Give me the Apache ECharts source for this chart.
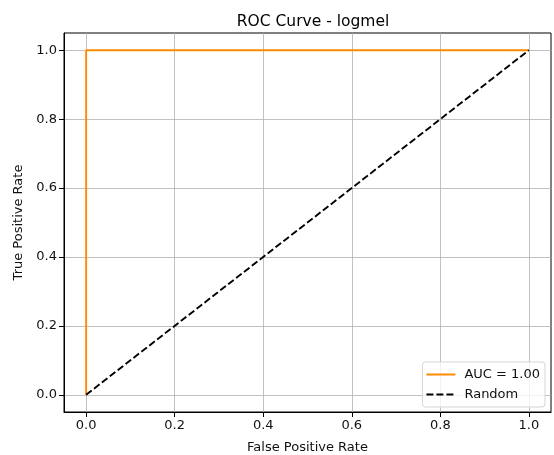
<!DOCTYPE html>
<html>
<head>
<meta charset="utf-8">
<script src="https://cdn.jsdelivr.net/npm/echarts@6/dist/echarts.min.js"></script>
<style>
  html, body { margin: 0; padding: 0; background: #fff; }
  #chart { width: 554px; height: 455px; }
</style>
</head>
<body>
<div id="chart"></div>
<script>
// ROC points
const fpr = [0, 0, 1];
const tpr = [0, 1, 1];
const randomX = [0, 1];
const randomY = [0, 1];
const ticks = [0, 0.2, 0.4, 0.6, 0.8, 1.0];

const font = "DejaVu Sans";

function pairs(xs, ys) {
  return xs.map((x, i) => [x, ys[i]]);
}

function makeAxis(name, gap) {
  return {
    type: "value",
    min: -0.05,
    max: 1.05,
    name: name,
    nameLocation: "middle",
    nameGap: gap,
    nameTextStyle: { fontFamily: font, fontSize: 13, color: "#111" },
    axisLine: { show: true, onZero: false, lineStyle: { color: "#000", width: 1 } },
    axisTick: {
      show: true,
      inside: false,
      customValues: ticks,
      length: 5,
      lineStyle: { color: "#000", width: 1 }
    },
    axisLabel: {
      customValues: ticks,
      formatter: v => v.toFixed(1),
      fontFamily: font,
      fontSize: 13,
      color: "#111",
      margin: 7
    },
    splitLine: {
      show: true,
      lineStyle: { color: "#b0b0b0", width: 0.8 }
    }
  };
}

const chart = echarts.init(document.getElementById("chart"));
chart.setOption({
  animation: false,
  title: {
    text: "ROC Curve - logmel",
    left: 308,
    top: 9,
    textAlign: "center",
    textStyle: { fontFamily: font, fontSize: 15.5, fontWeight: "normal", color: "#000" }
  },
  grid: {
    left: 64,
    right: 3,
    top: 33,
    bottom: 43,
    containLabel: false,
    outerBoundsMode: "none",
    show: true,
    borderColor: "#000",
    borderWidth: 1
  },
  xAxis: makeAxis("False Positive Rate", 29),
  yAxis: makeAxis("True Positive Rate", 37),
  legend: {
    orient: "vertical",
    right: 9,
    bottom: 48,
    itemWidth: 29,
    itemHeight: 2,
    itemGap: 7,
    padding: [6, 5, 6, 3],
    backgroundColor: "rgba(255,255,255,0.8)",
    borderColor: "#d5d5d5",
    borderWidth: 1,
    borderRadius: 3,
    textStyle: { fontFamily: font, fontSize: 13, color: "#111", padding: [0, 0, 0, 4] },
    data: [
      { name: "AUC = 1.00", icon: "rect" },
      { name: "Random" }
    ]
  },
  series: [
    {
      name: "AUC = 1.00",
      type: "line",
      data: pairs(fpr, tpr),
      showSymbol: false,
      symbol: "none",
      color: "#ff8c00",
      lineStyle: { color: "#ff8c00", width: 1.9 }
    },
    {
      name: "Random",
      type: "line",
      data: pairs(randomX, randomY),
      showSymbol: false,
      symbol: "none",
      color: "#000",
      lineStyle: { color: "#000", width: 1.9, type: [7, 3] }
    }
  ]
});
</script>
</body>
</html>
